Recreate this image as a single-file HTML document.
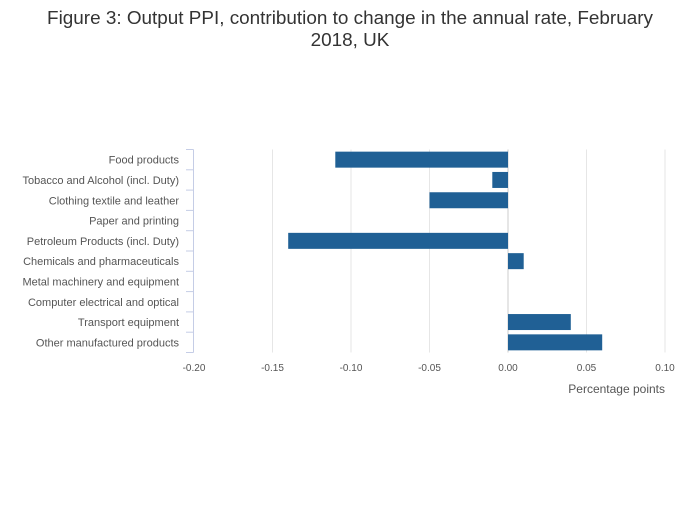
<!DOCTYPE html>
<html><head><meta charset="utf-8"><style>
body{margin:0;background:#fff;font-family:"Liberation Sans","Open Sans",sans-serif}
</style></head><body>
<svg width="700" height="502" xmlns="http://www.w3.org/2000/svg">
<text x="350" y="24" text-anchor="middle" font-size="18.9" fill="#333">Figure 3: Output PPI, contribution to change in the annual rate, February</text>
<text x="350" y="46" text-anchor="middle" font-size="18.9" fill="#333">2018, UK</text>
<g id="g"></g>
</svg>
<script>
const categories=["Food products","Tobacco and Alcohol (incl. Duty)","Clothing textile and leather","Paper and printing","Petroleum Products (incl. Duty)","Chemicals and pharmaceuticals","Metal machinery and equipment","Computer electrical and optical","Transport equipment","Other manufactured products"];
const values=[-0.11,-0.01,-0.05,0,-0.14,0.01,0,0,0.04,0.06];
const ticks=[-0.2,-0.15,-0.1,-0.05,0,0.05,0.1];
const tickLabels=["-0.20","-0.15","-0.10","-0.05","0.00","0.05","0.10"];
const ns="http://www.w3.org/2000/svg";
const g=document.getElementById('g');
const x0=194,x1=665,yTop=149.5,yBot=352.5;
const xs=v=>x0+(v-(-0.2))/(0.3)*(x1-x0);
const band=(yBot-yTop)/categories.length;
function mk(t,a){const e=document.createElementNS(ns,t);for(const k in a)e.setAttribute(k,a[k]);g.appendChild(e);return e;}
ticks.forEach((t,i)=>{
 if(i>0){const l=mk('line',{x1:xs(t),x2:xs(t),y1:yTop,y2:yBot,stroke:t===0?'#ccc':'#e6e6e6','stroke-width':1});
 
 }
 const tx=mk('text',{x:xs(t),y:371,'text-anchor':'middle','font-size':10,fill:'#555'});tx.textContent=tickLabels[i];
 
 
});
const ax=mk('line',{x1:193.5,x2:193.5,y1:yTop,y2:yBot,stroke:'#c5cde6','stroke-width':1});


for(let i=0;i<=categories.length;i++){const y=yTop+i*band;const tk=mk('line',{x1:186,x2:193.5,y1:y,y2:y,stroke:'#c5cde6','stroke-width':1});
 
 }
categories.forEach((c,i)=>{
 const yc=yTop+(i+0.5)*band;
 const t=mk('text',{x:179,y:yc+4,'text-anchor':'end','font-size':11,fill:'#555'});t.textContent=c;
 
 
 const v=values[i];if(v===0)return;
 const a=xs(Math.min(0,v)),b=xs(Math.max(0,v));
 const r=mk('rect',{x:a,y:yc-8,width:b-a,height:16,fill:'#206095'});
 
 
});
const xt=mk('text',{x:665,y:393,'text-anchor':'end','font-size':12,fill:'#555'});xt.textContent='Percentage points';


</script>
</body></html>
